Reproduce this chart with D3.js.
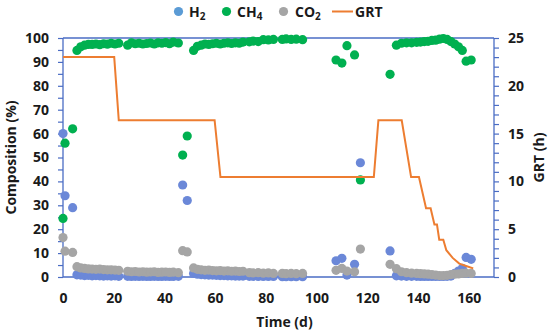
<!DOCTYPE html>
<html>
<head>
<meta charset="utf-8">
<script src="https://cdn.jsdelivr.net/npm/d3@7"></script>
<style>
html,body{margin:0;padding:0;background:#fff;}
svg{display:block;font-family:"Open Sans",sans-serif;font-weight:700;}
</style>
</head>
<body>
<svg id="chart" width="550" height="333"></svg>
<script>
// ---- data ----
const h2Days = [0, 0.8, 3.8, 5.5, 7, 8.5, 10, 11.5, 13, 14.5, 16, 17.5, 19, 20.5, 22,
  25.5, 27, 28.5, 30, 31.5, 33, 34.5, 36, 37.5, 39, 40.5, 42, 43.5, 45.5, 47.2, 49,
  51.5, 53, 54.5, 56, 57.5, 59, 60.5, 62, 63.5, 65, 66.5, 68, 69.5, 71,
  73.5, 75, 77, 79, 81, 83, 86.5, 88, 90, 92, 94.5,
  107.7, 110, 112, 115, 117.3,
  129, 131.5, 133.5, 135.5, 137.5, 139.5, 141, 142.5, 144, 145.5, 147, 148.5, 150, 151.5, 153, 154.5, 156, 157.5, 159, 161];
const h2Values = [60, 34, 29, 0.9, 0.8, 0.6, 0.7, 0.5, 0.6, 0.5, 0.4, 0.5, 0.4, 0.5, 0.3,
  0.3, 0.2, 0.3, 0.2, 0.3, 0.2, 0.2, 0.3, 0.2, 0.2, 0.3, 0.2, 0.2, 0.3, 38.5, 32,
  1.5, 1.2, 1, 0.9, 0.8, 0.8, 0.7, 0.6, 0.6, 0.5, 0.5, 0.4, 0.4, 0.4,
  0.3, 0.3, 0.2, 0.2, 0.2, 0.2, 0.1, 0.1, 0.1, 0.1, 0.1,
  6.8, 7.8, 0.8, 5.3, 47.8,
  10.9, 0.5, 0.4, 0.3, 0.3, 0.3, 0.2, 0.2, 0.2, 0.2, 0.2, 0.2, 0.2, 0.3, 0.4, 1.5, 2.5, 3.6, 8.2, 7.4];

const ch4Days = h2Days;
const ch4Values = [24.5, 56, 62, 94.8, 96.3, 97, 97.3, 97.3, 97.5, 97.2, 97.6, 97.4, 97.8, 97.5, 97.8,
  97, 98, 97.6, 97.8, 97.5, 97.7, 97.9, 97.5, 98, 97.8, 98.1, 97.6, 98.3, 97.9, 51, 59,
  94.8, 96.5, 97, 97.5, 97.3, 97.6, 97.8, 97.5, 97.8, 98, 97.7, 98, 97.8, 98.3,
  98.4, 98.7, 98.5, 99.3, 99.2, 99.4, 99.4, 99.6, 99.4, 99.5, 99.3,
  90.8, 89.5, 96.8, 92.9, 40.6,
  84.8, 97, 97.8, 98, 98, 98.2, 98.3, 98.5, 98.6, 99, 99.1, 99.5, 99.8, 99.4, 98.5, 97.5, 96.3, 94.8, 90.3, 90.8];

const co2Days = h2Days;
const co2Values = [16.5, 10.8, 10.3, 4.3, 3.8, 3.6, 3.4, 3.3, 3.2, 3.3, 3.1, 3.0, 3.0, 2.9, 2.8,
  2.4, 2.2, 2.3, 2.1, 2.2, 2.0, 2.1, 2.2, 1.9, 2.0, 2.1, 1.9, 2.0, 1.8, 11, 10.5,
  3.8, 3.2, 3.0, 2.8, 2.9, 2.7, 2.6, 2.7, 2.5, 2.6, 2.4, 2.5, 2.3, 2.4,
  1.8, 1.7, 1.8, 1.6, 1.7, 1.5, 1.5, 1.4, 1.5, 1.4, 1.5,
  2.8, 3.6, 2.5, 2.2, 11.7,
  5.3, 3.5, 2.2, 1.8, 1.6, 1.5, 1.4, 1.3, 1.2, 1.0, 0.8, 0.6, 0.6, 0.7, 1.0, 1.2, 1.3, 1.5, 1.6, 1.5];

const grtDays = [0, 20.2, 22, 59.8, 62.1, 122.6, 124.4, 133.6, 137.3, 140.4, 143.2, 145, 146.5, 147.5, 148.4, 150, 151.2, 153.7, 156.3, 159, 161.8];
const grtValues = [23, 23, 16.4, 16.4, 10.45, 10.45, 16.4, 16.4, 10.45, 10.45, 7.2, 7.2, 5.5, 5.5, 3.9, 3.9, 2.8, 2.0, 1.4, 1.15, 0.9];

const xTicks = [0, 20, 40, 60, 80, 100, 120, 140, 160];
const yTicks = [0, 10, 20, 30, 40, 50, 60, 70, 80, 90, 100];
const y2Ticks = [0, 5, 10, 15, 20, 25];

const seriesNames = ["H2", "CH4", "CO2", "GRT"];
const colors = {H2: "#5b9bd5", H2pt: "#6b88d8", CH4: "#00b050", CO2: "#a5a5a5", GRT: "#ed7d31", axis: "#4a6cc4"};

// ---- layout ----
const svg = d3.select("#chart");
const pL = 63, pR = 494, pT = 38, pB = 277;
const x = d3.scaleLinear().domain([0, 170]).range([pL, pR]);
const y = d3.scaleLinear().domain([0, 100]).range([pB, pT]);
const y2 = d3.scaleLinear().domain([0, 25]).range([pB, pT]);

// top border
svg.append("line").attr("x1", pL).attr("x2", pR).attr("y1", pT).attr("y2", pT)
  .attr("stroke", colors.axis).attr("stroke-width", 1.3);

// left axis
const gl = svg.append("g").attr("transform", `translate(${pL},0)`)
  .call(d3.axisLeft(y).tickValues(d3.range(0, 101, 5)).tickFormat(d => d % 10 === 0 ? d : "").tickSize(5).tickPadding(9));
// right axis
const gr = svg.append("g").attr("transform", `translate(${pR},0)`)
  .call(d3.axisRight(y2).tickValues(d3.range(0, 26, 1)).tickFormat(d => d % 5 === 0 ? d : "").tickSize(5).tickPadding(9));
// bottom axis
const gb = svg.append("g").attr("transform", `translate(0,${pB})`)
  .call(d3.axisBottom(x).tickValues(xTicks).tickSize(0).tickPadding(16));

[gl, gr, gb].forEach(g => {
  g.select(".domain").attr("stroke", colors.axis).attr("stroke-width", 1.3);
  g.selectAll(".tick line").attr("stroke", colors.axis).attr("stroke-width", 1.2);
  g.selectAll("text").attr("font-family", "'Open Sans', sans-serif").attr("font-weight", 700)
    .attr("font-size", 14).attr("fill", "#1a1a1a");
});
gl.select(".domain").attr("d", `M0,${pT}V${pB}`);
gr.select(".domain").attr("d", `M0,${pT}V${pB}`);
gb.select(".domain").attr("d", `M${pL},0H${pR}`);

// axis titles
svg.append("text").attr("transform", `translate(16,157.5) rotate(-90)`).attr("text-anchor", "middle")
  .attr("font-size", 14).attr("fill", "#1a1a1a").text("Composition (%)");
svg.append("text").attr("transform", `translate(544,157.5) rotate(-90)`).attr("text-anchor", "middle")
  .attr("font-size", 14).attr("fill", "#1a1a1a").text("GRT (h)");
svg.append("text").attr("x", (pL + pR) / 2 + 6).attr("y", 327).attr("text-anchor", "middle")
  .attr("font-size", 14).attr("fill", "#1a1a1a").text("Time (d)");

// points
const r = 4.6;
function pts(days, vals, color, cls) {
  svg.append("g").selectAll("circle").data(days.map((d, i) => [d, vals[i]])).join("circle")
    .attr("class", cls).attr("cx", d => x(d[0])).attr("cy", d => y(d[1])).attr("r", r).attr("fill", color);
}
pts(h2Days, h2Values, colors.H2pt, "h2");
pts(ch4Days, ch4Values, colors.CH4, "ch4");
pts(co2Days, co2Values, colors.CO2, "co2");

// GRT line
const line = d3.line().x(d => x(d[0])).y(d => y2(d[1]));
svg.append("path").datum(grtDays.map((d, i) => [d, grtValues[i]]))
  .attr("d", line).attr("fill", "none").attr("stroke", colors.GRT).attr("stroke-width", 2);

// legend
const leg = svg.append("g").attr("font-size", 14).attr("fill", "#1a1a1a");
function legText(xp, main, sub) {
  const t = leg.append("text").attr("x", xp).attr("y", 16.5);
  t.append("tspan").text(main);
  if (sub) t.append("tspan").attr("font-size", 10).attr("dy", 3).text(sub);
}
leg.append("circle").attr("cx", 178.5).attr("cy", 11.5).attr("r", 4.6).attr("fill", colors.H2);
legText(189, "H", "2");
leg.append("circle").attr("cx", 226.5).attr("cy", 11.5).attr("r", 4.6).attr("fill", colors.CH4);
legText(237, "CH", "4");
leg.append("circle").attr("cx", 283.5).attr("cy", 11.5).attr("r", 4.6).attr("fill", colors.CO2);
legText(295, "CO", "2");
leg.append("line").attr("x1", 332).attr("x2", 353).attr("y1", 11.5).attr("y2", 11.5)
  .attr("stroke", colors.GRT).attr("stroke-width", 2);
legText(355, "GRT", null);
</script>
</body>
</html>
